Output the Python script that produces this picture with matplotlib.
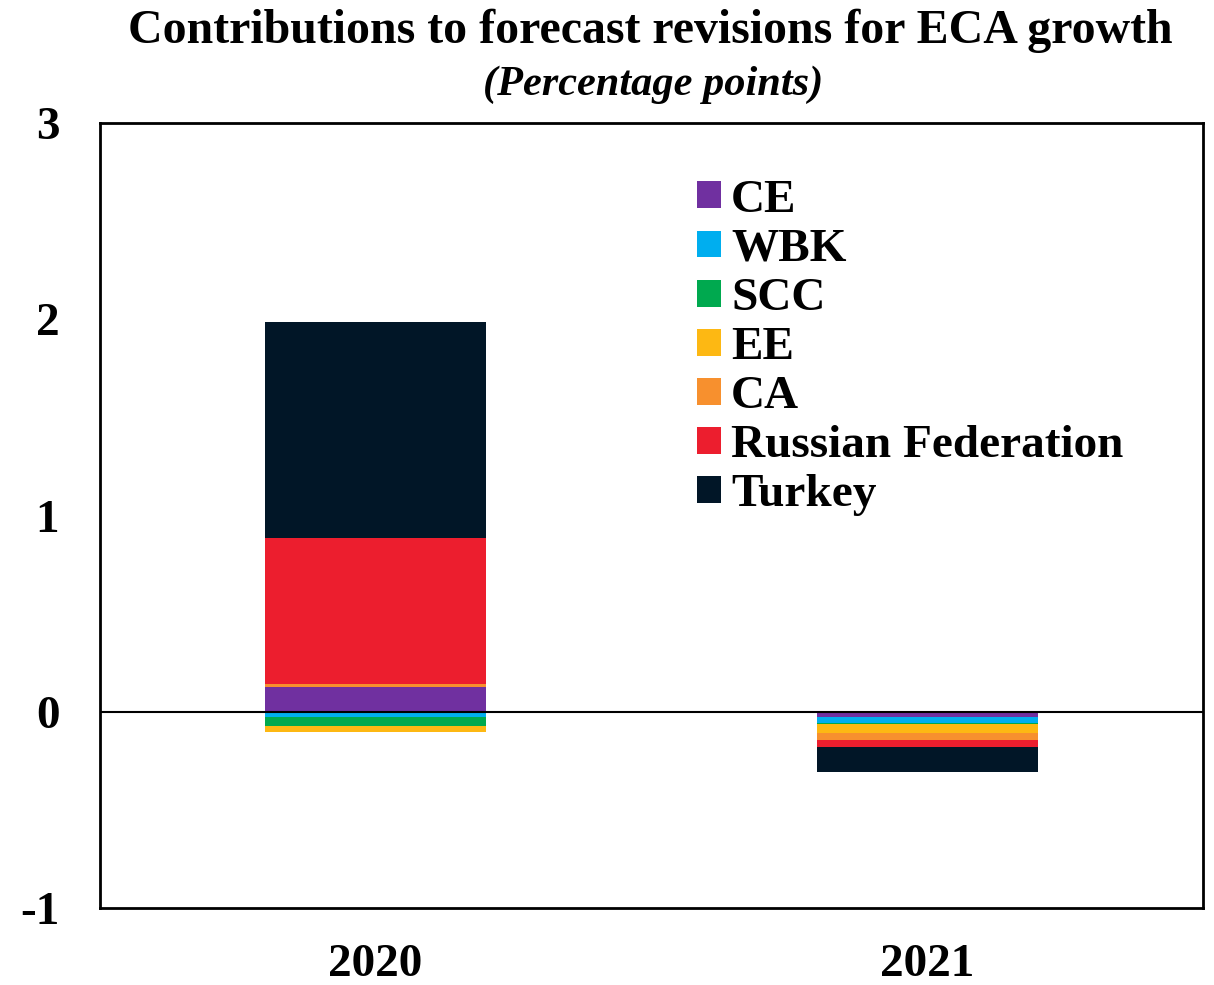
import numpy as np
import matplotlib.pyplot as plt

plt.rcParams['font.family'] = 'Liberation Serif'
plt.rcParams['font.weight'] = 'bold'
plt.rcParams['axes.unicode_minus'] = False

years = ['2020', '2021']
series = ['CE', 'WBK', 'SCC', 'EE', 'CA', 'Russian Federation', 'Turkey']
colors = ['#7030A0', '#00AEEF', '#00A94F', '#FDB813', '#F7902E', '#EC1E2E', '#011627']

ce = [0.128, -0.028]
wbk = [-0.028, -0.026]
scc = [-0.044, -0.007]
ee = [-0.029, -0.044]
ca = [0.014, -0.039]
russia = [0.744, -0.037]
turkey = [1.100, -0.127]

values = [ce, wbk, scc, ee, ca, russia, turkey]

fig, ax = plt.subplots(figsize=(12.14, 9.85), dpi=100)
fig.subplots_adjust(left=0.082, right=0.991, top=0.875, bottom=0.078)

x = np.arange(len(years))
pos_base = np.zeros(len(years))
neg_base = np.zeros(len(years))
for name, vals, col in zip(series, values, colors):
    vals = np.array(vals)
    base = np.where(vals >= 0, pos_base, neg_base)
    ax.bar(x, vals, 0.4, bottom=base, color=col, label=name, linewidth=0)
    pos_base += np.where(vals >= 0, vals, 0)
    neg_base += np.where(vals < 0, vals, 0)

ax.axhline(0, color='black', linewidth=1.5)
ax.set_xlim(-0.5, 1.5)
ax.set_ylim(-1, 3)
ax.set_yticks([-1, 0, 1, 2, 3])
ax.set_xticks(x)
ax.set_xticklabels(years)
ax.tick_params(axis='both', length=0, labelsize=34)
ax.tick_params(axis='x', pad=26)
ax.tick_params(axis='y', pad=29)
for s in ax.spines.values():
    s.set_linewidth(2)

ax.legend(loc='upper left', bbox_to_anchor=(0.5245, 0.952), frameon=False,
          fontsize=34, handlelength=0.5, handleheight=0.5, handletextpad=0.22,
          labelspacing=0.15, borderaxespad=0)

fig.text(0.536, 0.969, 'Contributions to forecast revisions for ECA growth',
         ha='center', va='center', fontsize=34.5, fontweight='bold')
fig.text(0.538, 0.914, '(Percentage points)', ha='center', va='center',
         fontsize=30.5, fontweight='bold', style='italic')

plt.savefig('out.png', dpi=100)
